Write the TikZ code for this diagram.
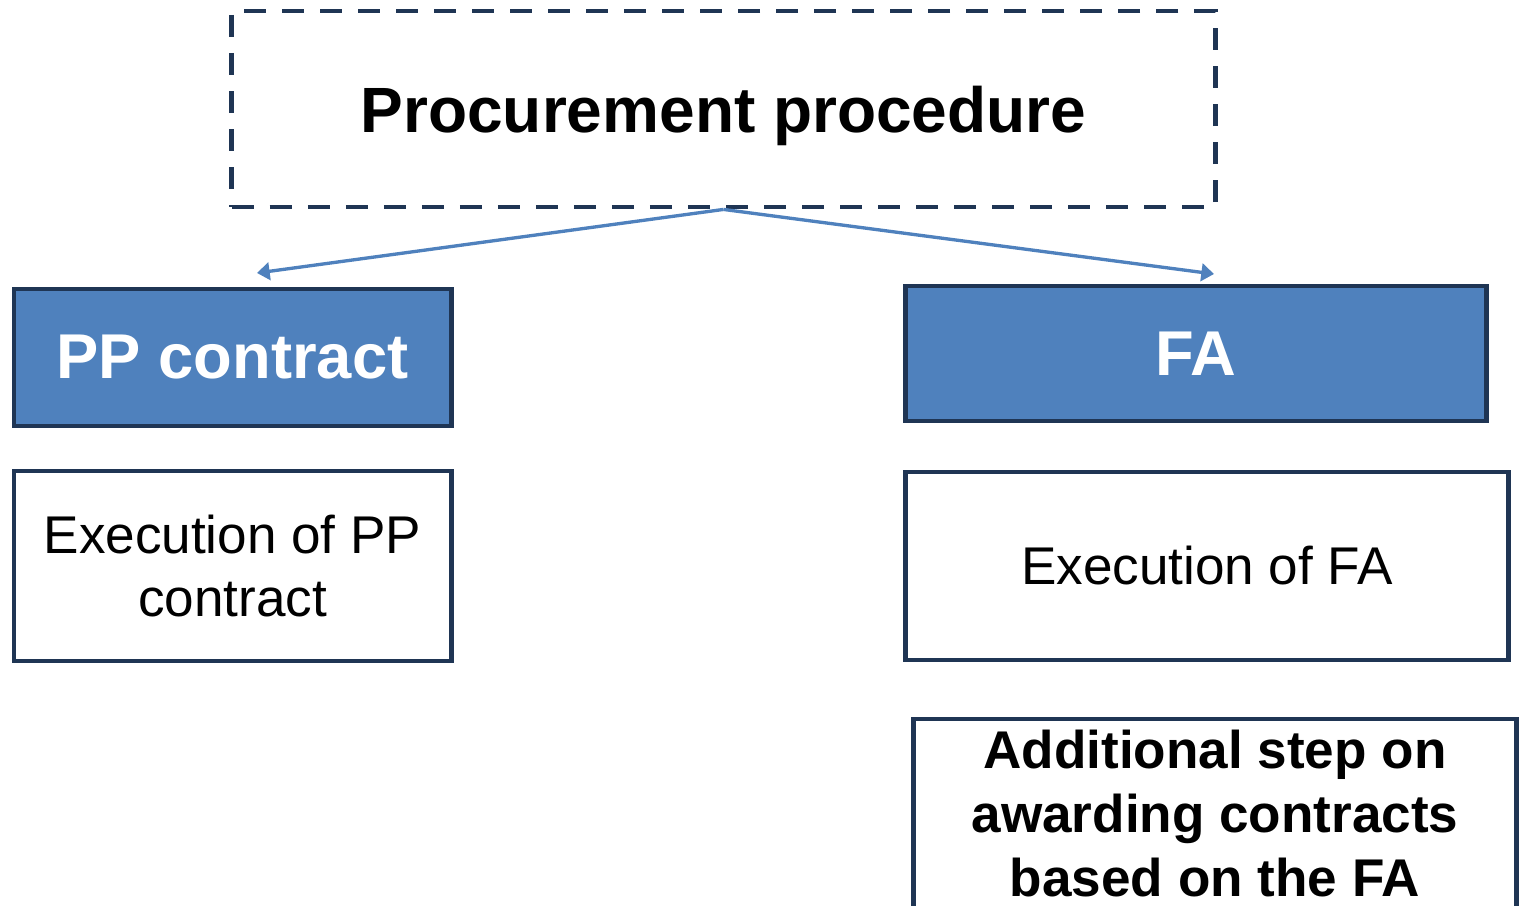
\documentclass[tikz,border=0pt]{standalone}
\usepackage{fontspec}
\setmainfont{Liberation Sans}
\usetikzlibrary{arrows.meta}
\definecolor{boxblue}{HTML}{4F81BD}
\definecolor{navy}{HTML}{1F3554}

\begin{document}
\begin{tikzpicture}[x=0.01cm, y=-0.01cm,
    frame/.style={draw=navy, line width=1.35pt, rectangle, inner sep=0pt, align=center},
    head/.style={frame, fill=boxblue, text=white, font=\fontsize{18}{22}\selectfont\bfseries},
    body/.style={frame, fill=white, font=\fontsize{15.1}{17.9}\selectfont},
    link/.style={draw=boxblue, line width=0.95pt, -{Triangle[length=3.6pt, width=5pt]}}]
                \useasboundingbox (0,0) rectangle (1520,906);
                \clip (0,0) rectangle (1520,906);

                % Nodes
                \node[frame, dashed, dash pattern=on 0.22cm off 0.16cm, minimum width=9.83cm, minimum height=1.96cm, text depth=0pt, font=\fontsize{18.2}{22}\selectfont\bfseries] (proc) at (723.5, 109) {Procurement procedure};
                \node[head, minimum width=4.37cm, minimum height=1.37cm] (pp) at (232.5, 357.5) {PP contract};
                \node[head, minimum width=5.80cm, minimum height=1.35cm] (fa) at (1196, 353.5) {FA};
                \node[body, minimum width=4.37cm, minimum height=1.90cm] (execpp) at (232.5, 566) {Execution of PP\\contract};
                \node[body, minimum width=6.02cm, minimum height=1.88cm] (execfa) at (1207, 566) {Execution of FA};
                \node[body, minimum width=6.02cm, minimum height=1.90cm, font=\fontsize{15.1}{18.2}\selectfont\bfseries] (step) at (1215, 814) {Additional step on\\awarding contracts\\based on the FA};

                % Arrow ends
                \coordinate (ppin) at (257, 273);
                \coordinate (fain) at (1214, 274);

                % Edges
                \draw[link] (proc.south) -- (ppin);
                \draw[link] (proc.south) -- (fain);
            \end{tikzpicture}
\end{document}
